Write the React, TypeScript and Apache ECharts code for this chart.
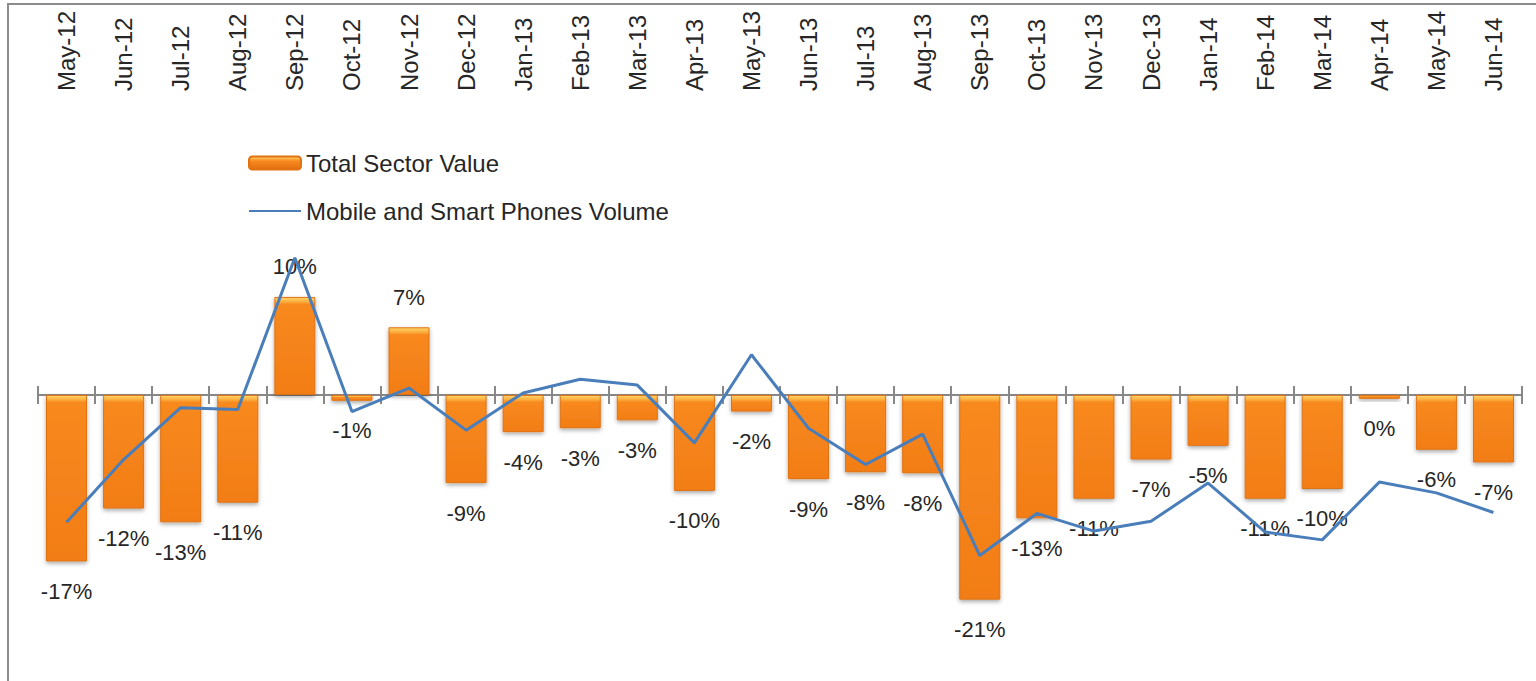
import React, { useEffect, useRef } from 'react';
import * as echarts from 'echarts';

const categories = [
  'May-12', 'Jun-12', 'Jul-12', 'Aug-12', 'Sep-12', 'Oct-12', 'Nov-12', 'Dec-12',
  'Jan-13', 'Feb-13', 'Mar-13', 'Apr-13', 'May-13', 'Jun-13', 'Jul-13', 'Aug-13',
  'Sep-13', 'Oct-13', 'Nov-13', 'Dec-13', 'Jan-14', 'Feb-14', 'Mar-14', 'Apr-14',
  'May-14', 'Jun-14',
];

const totalSectorValue = [
  -17.0, -11.6, -13.0, -11.0, 10.0, -0.6, 6.9, -9.0,
  -3.8, -3.4, -2.6, -9.8, -1.7, -8.6, -7.9, -8.0,
  -20.9, -12.6, -10.6, -6.6, -5.2, -10.6, -9.6, -0.4,
  -5.6, -6.9,
];

const mobileVolume = [
  -13.0, -6.6, -1.3, -1.5, 14.0, -1.7, 0.7, -3.6,
  0.2, 1.6, 1.0, -4.9, 4.1, -3.4, -7.1, -4.0,
  -16.4, -12.1, -13.9, -12.9, -9.0, -14.0, -14.8, -8.9,
  -10.0, -12.0,
];

const Y_MIN = -29;
const Y_MAX = 30;
const GRID_TOP = 101;
const GRID_HEIGHT = 578;
const PX_PER_UNIT = GRID_HEIGHT / (Y_MAX - Y_MIN);
const FONT = 'Liberation Sans';

function barGradient(v: number) {
  const h = Math.max(1, Math.abs(v) * PX_PER_UNIT);
  const k = Math.min(0.45, 7 / h);
  return new echarts.graphic.LinearGradient(0, 0, 0, 1, [
    { offset: 0, color: '#ffd56a' },
    { offset: k * 0.6, color: '#fbb040' },
    { offset: k, color: '#f8891f' },
    { offset: 1, color: '#f27d16' },
  ]);
}

export default function App() {
  const ref = useRef<HTMLDivElement>(null);

  useEffect(() => {
    if (!ref.current) return;
    const chart = echarts.init(ref.current, null, { renderer: 'svg' });

    const barData = totalSectorValue.map((v) => ({
      value: v,
      label: { position: v >= 0 ? 'top' : 'bottom' },
      itemStyle: { color: barGradient(v) },
    }));

    chart.setOption({
      animation: false,
      backgroundColor: '#ffffff',
      graphic: [
        {
          type: 'rect',
          shape: { x: 8, y: 4, width: 1700, height: 900 },
          style: { fill: 'none', stroke: '#8c8c8c', lineWidth: 2 },
          silent: true,
          z: 100,
        },
      ],
      legend: {
        orient: 'vertical',
        left: 248,
        top: 151,
        padding: 0,
        itemWidth: 52,
        itemHeight: 13,
        itemGap: 24,
        textStyle: { fontFamily: FONT, fontSize: 24, color: '#262626' },
        data: [
          { name: 'Total Sector Value' },
          {
            name: 'Mobile and Smart Phones Volume',
            itemStyle: { color: 'rgba(0,0,0,0)', borderColor: 'rgba(0,0,0,0)', borderWidth: 0, opacity: 0 },
          },
        ],
      },
      grid: [
        { left: 38, right: 14, top: GRID_TOP, height: GRID_HEIGHT },
        { left: 38, right: 14, top: GRID_TOP, height: GRID_HEIGHT },
      ],
      xAxis: [
        {
          type: 'category',
          gridIndex: 0,
          position: 'top',
          data: categories,
          axisLine: { show: false, onZero: false },
          axisTick: { show: false },
          axisLabel: {
            rotate: -90,
            margin: 10,
            interval: 0,
            fontFamily: FONT,
            fontSize: 24,
            color: '#262626',
          },
        },
        {
          type: 'category',
          gridIndex: 0,
          position: 'bottom',
          data: categories,
          axisLine: { show: true, onZero: true, lineStyle: { color: '#888888', width: 2 } },
          axisTick: { show: true, length: 9, lineStyle: { color: '#888888', width: 2 } },
          axisLabel: { show: false },
        },
        {
          type: 'category',
          gridIndex: 1,
          position: 'bottom',
          data: categories,
          axisLine: { show: false, onZero: true },
          axisTick: { show: true, inside: true, length: 9, lineStyle: { color: '#888888', width: 2 } },
          axisLabel: { show: false },
        },
      ],
      yAxis: [
        {
          type: 'value',
          gridIndex: 0,
          min: Y_MIN,
          max: Y_MAX,
          show: false,
          splitLine: { show: false },
        },
        {
          type: 'value',
          gridIndex: 1,
          min: Y_MIN,
          max: Y_MAX,
          show: false,
          splitLine: { show: false },
        },
      ],
      series: [
        {
          name: 'Total Sector Value',
          type: 'bar',
          xAxisIndex: 0,
          yAxisIndex: 0,
          barWidth: 41,
          data: barData,
          itemStyle: {
            color: new echarts.graphic.LinearGradient(0, 0, 0, 1, [
              { offset: 0, color: '#ffd56a' },
              { offset: 0.35, color: '#f8891f' },
              { offset: 1, color: '#e2700e' },
            ]),
            borderColor: '#e07212',
            borderWidth: 1,
            shadowColor: 'rgba(0,0,0,0.35)',
            shadowBlur: 4,
            shadowOffsetY: 2,
          },
          label: {
            show: true,
            distance: 19,
            fontFamily: FONT,
            fontSize: 22,
            color: '#262626',
            formatter: (p: any) => Math.round(p.value) + '%',
          },
          z: 2,
        },
        {
          name: 'Mobile and Smart Phones Volume',
          type: 'line',
          xAxisIndex: 0,
          yAxisIndex: 0,
          data: mobileVolume,
          symbol: 'none',
          lineStyle: { color: '#4a7ebb', width: 3 },
          itemStyle: { color: '#4a7ebb' },
          z: 3,
        },
      ],
    });

    return () => chart.dispose();
  }, []);

  return (
    <div
      ref={ref}
      style={{ position: 'fixed', left: 0, top: 0, width: 1536, height: 681 }}
    />
  );
}
